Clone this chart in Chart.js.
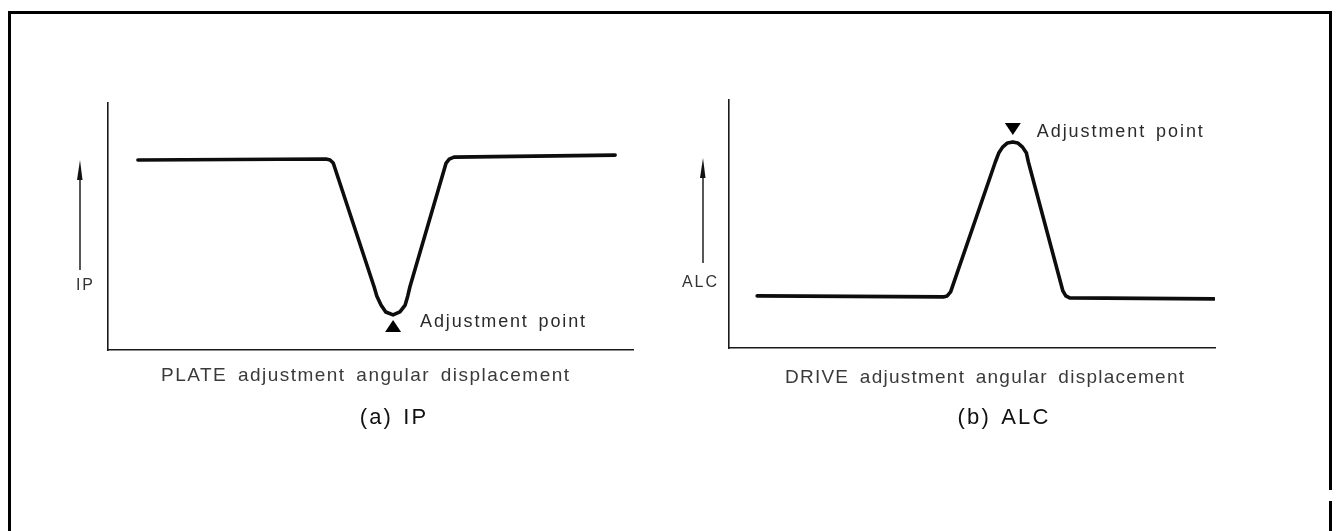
<!DOCTYPE html>
<html>
<head>
<meta charset="utf-8">
<script src="https://cdn.jsdelivr.net/npm/chart.js@4.4.1/dist/chart.umd.min.js"></script>
<style>
  html, body { margin: 0; padding: 0; background: #fff; }
  body { width: 1336px; height: 531px; position: relative; overflow: hidden; }
  .frame { position: absolute; left: 8px; top: 11px; width: 1318px; height: 600px;
           border: 3px solid #000; border-bottom: none; }
  .gap { position: absolute; left: 1326px; top: 490px; width: 10px; height: 11px; background: #fff; }
  canvas { position: absolute; top: 0; }
</style>
</head>
<body>
<div class="frame"></div>
<div class="gap"></div>
<canvas id="ip" width="668" height="531" style="left:0"></canvas>
<canvas id="alc" width="668" height="531" style="left:668px"></canvas>
<script>
// (a) IP dip while turning PLATE; (b) ALC peak while turning DRIVE (arbitrary units, 0-100)
const ipAngle = [5.7, 41.5, 42.3, 42.9, 50.7, 51.2, 52.0, 52.9, 54.3, 55.6, 56.6, 57.1, 57.5, 64.4, 65.0, 65.9, 96.6];
const ipLevel = [76.9, 77.3, 76.9, 75.7, 25.5, 21.9, 18.2, 15.4, 14.2, 15.4, 18.2, 21.9, 25.5, 75.7, 77.3, 78.1, 78.9];
const alcAngle = [5.8, 44.1, 44.9, 45.6, 54.8, 55.5, 56.3, 57.3, 58.4, 59.4, 60.4, 61.2, 61.6, 68.7, 69.3, 70.1, 99.8];
const alcLevel = [21.0, 20.6, 21.0, 22.6, 75.0, 78.6, 81.0, 82.7, 83.1, 82.7, 81.0, 78.6, 75.0, 23.0, 21.0, 20.2, 19.8];

const ipTitle = 'PLATE adjustment angular displacement';
const alcTitle = 'DRIVE adjustment angular displacement';
const markerText = 'Adjustment point';

const FONT = '"Liberation Sans", Arial, Helvetica, sans-serif';

function spacedText(ctx, text, left, base, width, wordGap) {
  ctx.save();
  if ('wordSpacing' in ctx) ctx.wordSpacing = wordGap + 'px';
  if ('letterSpacing' in ctx) ctx.letterSpacing = '0px';
  const natural = ctx.measureText(text).width;
  const extra = Math.max(0, (width - natural) / (text.length - 1));
  if ('letterSpacing' in ctx) ctx.letterSpacing = extra + 'px';
  ctx.textAlign = 'left';
  ctx.textBaseline = 'alphabetic';
  ctx.fillText(text, left, base);
  ctx.restore();
}

const diagram = {
  id: 'diagram',
  afterDatasetsDraw(chart, args, o) {
    const { ctx, chartArea: a, scales: { x, y } } = chart;
    const ds = chart.data.datasets[0].data;
    ctx.save();

    // vertical arrow + quantity label
    const ax = a.left - o.arrowDx;
    ctx.strokeStyle = '#111';
    ctx.fillStyle = '#111';
    ctx.lineWidth = 1.4;
    ctx.beginPath();
    ctx.moveTo(ax, a.top + o.arrowBottom);
    ctx.lineTo(ax, a.top + o.arrowTop + 14);
    ctx.stroke();
    ctx.beginPath();
    ctx.moveTo(ax, a.top + o.arrowTop);
    ctx.lineTo(ax - 3, a.top + o.arrowTop + 20);
    ctx.lineTo(ax + 2.5, a.top + o.arrowTop + 20);
    ctx.closePath();
    ctx.fill();

    ctx.fillStyle = '#333';
    ctx.font = '16px ' + FONT;
    const lw = ctx.measureText(o.axisLabel).width + 2 * (o.axisLabel.length - 1);
    spacedText(ctx, o.axisLabel, a.left - o.labelRight - lw, a.top + o.labelBase, lw, 0);

    // axis title
    ctx.font = '19px ' + FONT;
    ctx.fillStyle = '#3a3a3a';
    spacedText(ctx, o.title, a.left + o.titleLeft, a.bottom + o.titleBase, o.titleWidth, 4);

    // caption
    ctx.font = '22px ' + FONT;
    ctx.fillStyle = '#111';
    const cw = ctx.measureText(o.caption).width + 2.5 * (o.caption.length - 1);
    spacedText(ctx, o.caption, a.left + o.captionX - cw / 2, a.bottom + o.captionBase, cw, 2);

    // adjustment point marker at the curve extreme
    let k = 0;
    ds.forEach((p, i) => {
      if (o.marker === 'up' ? p.y < ds[k].y : p.y > ds[k].y) k = i;
    });
    const px = x.getPixelForValue(ds[k].x);
    const py = y.getPixelForValue(ds[k].y);
    ctx.fillStyle = '#000';
    ctx.beginPath();
    if (o.marker === 'up') {
      ctx.moveTo(px, py + 5);
      ctx.lineTo(px - 8, py + 17);
      ctx.lineTo(px + 8, py + 17);
    } else {
      ctx.moveTo(px, py - 7);
      ctx.lineTo(px - 8, py - 19);
      ctx.lineTo(px + 8, py - 19);
    }
    ctx.closePath();
    ctx.fill();

    ctx.font = '18px ' + FONT;
    ctx.fillStyle = '#2a2a2a';
    const tb = o.marker === 'up' ? py + 12 : py - 5;
    spacedText(ctx, markerText, px + o.noteDx, tb, o.noteWidth, 3);

    ctx.restore();
  }
};

function makePanel(id, xs, ys, padding, opts) {
  const points = xs.map((v, i) => ({ x: v, y: ys[i] }));
  return new Chart(document.getElementById(id).getContext('2d'), {
    type: 'line',
    data: {
      datasets: [{
        data: points,
        borderColor: '#0d0d0d',
        borderWidth: 3.6,
        borderJoinStyle: 'round',
        borderCapStyle: 'round',
        pointRadius: 0,
        tension: 0,
        fill: false
      }]
    },
    options: {
      responsive: false,
      animation: false,
      layout: { padding },
      plugins: { legend: { display: false }, tooltip: { enabled: false }, diagram: opts },
      scales: {
        x: {
          type: 'linear', min: 0, max: 100,
          grid: { display: false, drawTicks: false },
          ticks: { display: false },
          border: { display: true, color: '#1a1a1a', width: 1.6 }
        },
        y: {
          type: 'linear', min: 0, max: 100,
          grid: { display: false, drawTicks: false },
          ticks: { display: false },
          border: { display: true, color: '#1a1a1a', width: 1.6 }
        }
      }
    },
    plugins: [diagram]
  });
}

makePanel('ip', ipAngle, ipLevel, { left: 108, top: 103, right: 35, bottom: 181 }, {
  axisLabel: 'IP', labelRight: 15, labelBase: 187,
  arrowDx: 28, arrowTop: 57, arrowBottom: 167,
  title: ipTitle, titleLeft: 53, titleWidth: 408, titleBase: 31,
  caption: '(a) IP', captionX: 285, captionBase: 74,
  marker: 'up', noteDx: 27, noteWidth: 165
});

makePanel('alc', alcAngle, alcLevel, { left: 61, top: 100, right: 121, bottom: 183 }, {
  axisLabel: 'ALC', labelRight: 12, labelBase: 187,
  arrowDx: 26, arrowTop: 58, arrowBottom: 163,
  title: alcTitle, titleLeft: 56, titleWidth: 399, titleBase: 35,
  caption: '(b) ALC', captionX: 274, captionBase: 76,
  marker: 'down', noteDx: 24, noteWidth: 166
});
</script>
</body>
</html>
